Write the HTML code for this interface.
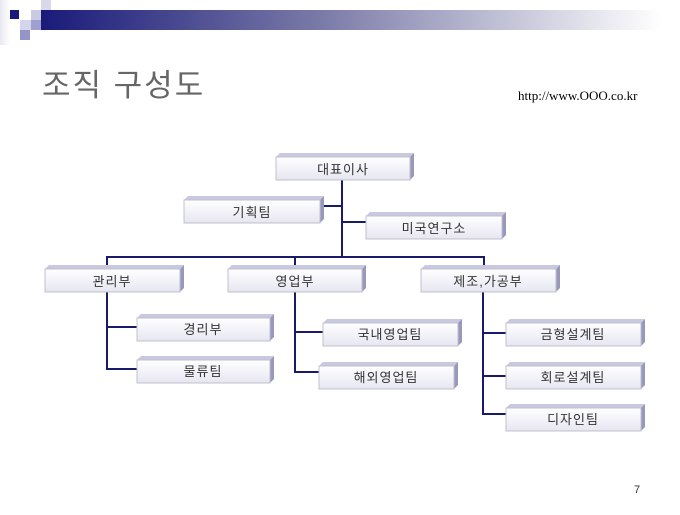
<!DOCTYPE html>
<html><head><meta charset="utf-8"><style>
body{margin:0;width:680px;height:510px;background:#fff;overflow:hidden}
svg text{font-family:"Liberation Sans","Noto Sans CJK KR","NanumGothic",sans-serif}
</style></head><body>
<svg width="680" height="510" viewBox="0 0 680 510" xmlns="http://www.w3.org/2000/svg">
<defs>
<linearGradient id="bar" x1="0" x2="1" y1="0" y2="0">
<stop offset="0" stop-color="#1a1a7a"/><stop offset="0.45" stop-color="#7a7aa8"/><stop offset="1" stop-color="#ffffff"/>
</linearGradient>
<linearGradient id="bx" x1="0" x2="0" y1="0" y2="1">
<stop offset="0" stop-color="#ffffff"/><stop offset="1" stop-color="#e6e6f2"/>
</linearGradient>
<linearGradient id="lf" x1="0" x2="1"><stop offset="0" stop-color="#e8e8f2"/><stop offset="1" stop-color="#fff"/></linearGradient>
</defs>
<rect x="0" y="0" width="10" height="45" fill="url(#lf)"/>
<rect x="41" y="10" width="620" height="20" fill="url(#bar)"/>
<rect x="10" y="10" width="9" height="9" fill="#1a1a7a"/>
<rect x="41" y="0" width="10" height="10" fill="#d8d8ea"/>
<rect x="31" y="10" width="10" height="10" fill="#cacae2"/>
<rect x="20" y="20" width="11" height="10" fill="#d4d4ea"/>
<rect x="31" y="20" width="10" height="10" fill="#a0a0d0"/>
<rect x="20" y="30" width="10" height="10" fill="#9494c8"/>
<text x="42" y="96" font-size="31" fill="#666" letter-spacing="2">조직 구성도</text>
<text x="518" y="100" font-size="13" fill="#000" style="font-family:'Liberation Serif',serif">http://www.OOO.co.kr</text>
<text x="634" y="493" font-size="11" fill="#333">7</text>
<g stroke="#1a1a6a" stroke-width="2" fill="none">
<path d="M342 180V257M322 206H342M342 222H366"/>
<path d="M107 265V257H484V265M295 257V265"/>
<path d="M107 292V369H137M107 327H137"/>
<path d="M295 292V372H319M295 332H323"/>
<path d="M483 292V414H506M483 333H506M483 376H506"/>
</g>
<g font-size="13" fill="#333" text-anchor="middle" letter-spacing="1">
<g transform="translate(276,153)"><polygon points="0,4 4,0 138,0 134,4" fill="#c8c8e0"/><polygon points="134,4 138,0 138,23 134,27" fill="#9898bc"/><rect x="0" y="4" width="134" height="23" fill="url(#bx)" stroke="#c0c0cc"/><text x="67" y="21">대표이사</text></g>
<g transform="translate(184,196)"><polygon points="0,4 4,0 140,0 136,4" fill="#c8c8e0"/><polygon points="136,4 140,0 140,23 136,27" fill="#9898bc"/><rect x="0" y="4" width="136" height="23" fill="url(#bx)" stroke="#c0c0cc"/><text x="68" y="21">기획팀</text></g>
<g transform="translate(366,212)"><polygon points="0,4 4,0 140,0 136,4" fill="#c8c8e0"/><polygon points="136,4 140,0 140,23 136,27" fill="#9898bc"/><rect x="0" y="4" width="136" height="23" fill="url(#bx)" stroke="#c0c0cc"/><text x="68" y="21">미국연구소</text></g>
<g transform="translate(45,265)"><polygon points="0,4 4,0 139,0 135,4" fill="#c8c8e0"/><polygon points="135,4 139,0 139,23 135,27" fill="#9898bc"/><rect x="0" y="4" width="135" height="23" fill="url(#bx)" stroke="#c0c0cc"/><text x="67" y="21">관리부</text></g>
<g transform="translate(228,265)"><polygon points="0,4 4,0 138,0 134,4" fill="#c8c8e0"/><polygon points="134,4 138,0 138,23 134,27" fill="#9898bc"/><rect x="0" y="4" width="134" height="23" fill="url(#bx)" stroke="#c0c0cc"/><text x="67" y="21">영업부</text></g>
<g transform="translate(421,265)"><polygon points="0,4 4,0 139,0 135,4" fill="#c8c8e0"/><polygon points="135,4 139,0 139,23 135,27" fill="#9898bc"/><rect x="0" y="4" width="135" height="23" fill="url(#bx)" stroke="#c0c0cc"/><text x="67" y="21">제조,가공부</text></g>
<g transform="translate(137,314)"><polygon points="0,4 4,0 137,0 133,4" fill="#c8c8e0"/><polygon points="133,4 137,0 137,23 133,27" fill="#9898bc"/><rect x="0" y="4" width="133" height="23" fill="url(#bx)" stroke="#c0c0cc"/><text x="66" y="20">경리부</text></g>
<g transform="translate(137,356)"><polygon points="0,4 4,0 137,0 133,4" fill="#c8c8e0"/><polygon points="133,4 137,0 137,23 133,27" fill="#9898bc"/><rect x="0" y="4" width="133" height="23" fill="url(#bx)" stroke="#c0c0cc"/><text x="66" y="20">물류팀</text></g>
<g transform="translate(323,319)"><polygon points="0,4 4,0 139,0 135,4" fill="#c8c8e0"/><polygon points="135,4 139,0 139,23 135,27" fill="#9898bc"/><rect x="0" y="4" width="135" height="23" fill="url(#bx)" stroke="#c0c0cc"/><text x="67" y="20">국내영업팀</text></g>
<g transform="translate(319,362)"><polygon points="0,4 4,0 139,0 135,4" fill="#c8c8e0"/><polygon points="135,4 139,0 139,23 135,27" fill="#9898bc"/><rect x="0" y="4" width="135" height="23" fill="url(#bx)" stroke="#c0c0cc"/><text x="67" y="20">해외영업팀</text></g>
<g transform="translate(506,319)"><polygon points="0,4 4,0 139,0 135,4" fill="#c8c8e0"/><polygon points="135,4 139,0 139,23 135,27" fill="#9898bc"/><rect x="0" y="4" width="135" height="23" fill="url(#bx)" stroke="#c0c0cc"/><text x="67" y="20">금형설계팀</text></g>
<g transform="translate(506,362)"><polygon points="0,4 4,0 139,0 135,4" fill="#c8c8e0"/><polygon points="135,4 139,0 139,23 135,27" fill="#9898bc"/><rect x="0" y="4" width="135" height="23" fill="url(#bx)" stroke="#c0c0cc"/><text x="67" y="20">회로설계팀</text></g>
<g transform="translate(506,404)"><polygon points="0,4 4,0 139,0 135,4" fill="#c8c8e0"/><polygon points="135,4 139,0 139,23 135,27" fill="#9898bc"/><rect x="0" y="4" width="135" height="23" fill="url(#bx)" stroke="#c0c0cc"/><text x="67" y="20">디자인팀</text></g>
</g>
</svg>
</body></html>
